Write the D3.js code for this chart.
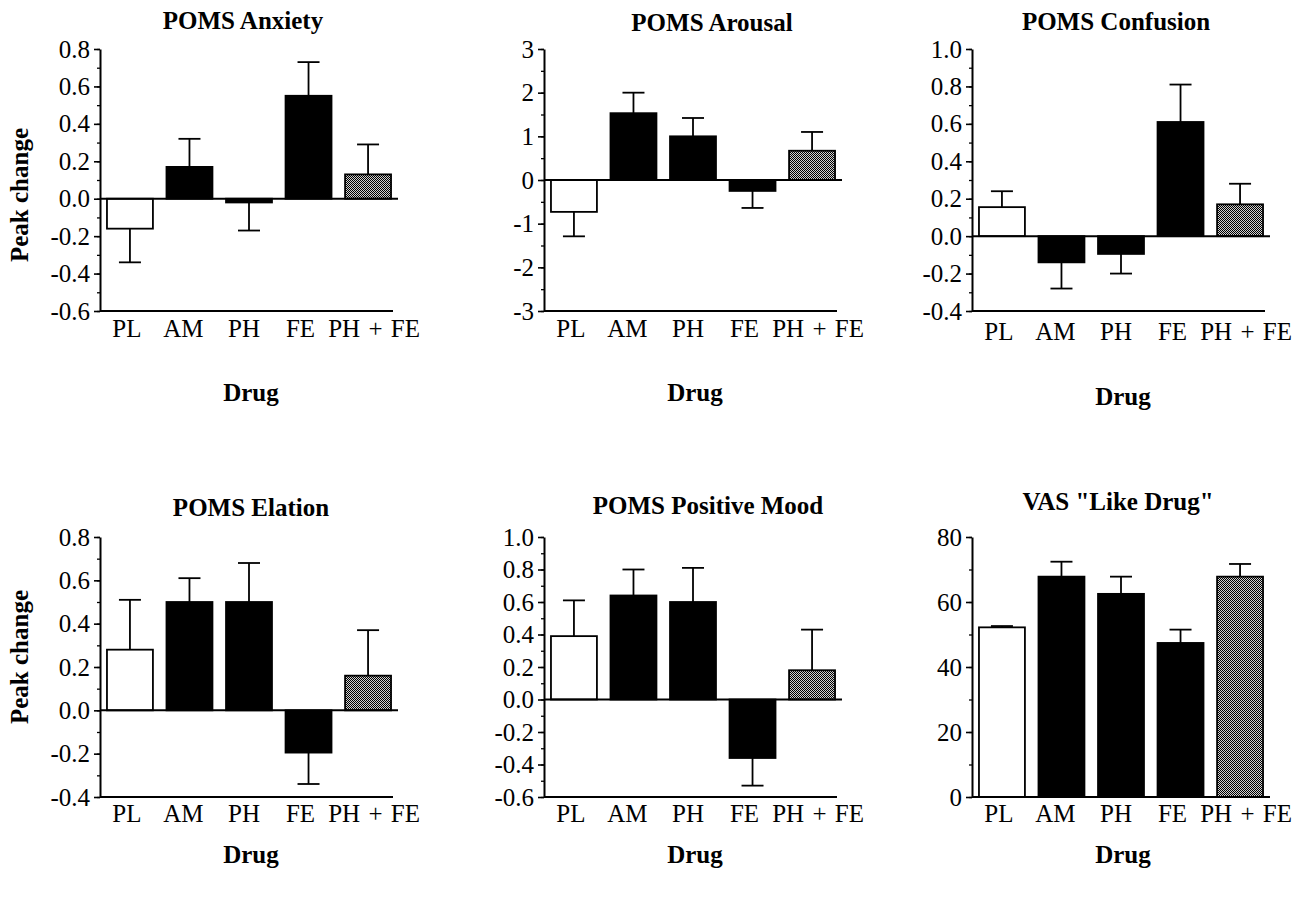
<!DOCTYPE html>
<html>
<head>
<meta charset="utf-8">
<script src="https://cdn.jsdelivr.net/npm/d3@7"></script>
<style>
  body { margin: 0; background: #fff; }
  svg { display: block; }
  text { font-family: "Liberation Serif", "Times New Roman", serif; fill: #000; }
  .tickLbl { font-size: 25px; }
  .ttl { font-size: 25px; font-weight: bold; }
  .axTtl { font-size: 25px; font-weight: bold; }
</style>
</head>
<body>
<div id="chart"></div>
<script>
var categories = ["PL", "AM", "PH", "FE", "PH + FE"];
var panelTitles = ["POMS Anxiety", "POMS Arousal", "POMS Confusion", "POMS Elation", "POMS Positive Mood", 'VAS "Like Drug"'];

var anxietyMean = [-0.16, 0.17, -0.02, 0.55, 0.13];
var anxietySem = [0.18, 0.15, 0.15, 0.18, 0.16];
var arousalMean = [-0.73, 1.53, 1.0, -0.25, 0.67];
var arousalSem = [0.56, 0.47, 0.42, 0.39, 0.43];
var confusionMean = [0.155, -0.14, -0.095, 0.61, 0.17];
var confusionSem = [0.085, 0.14, 0.105, 0.20, 0.11];
var elationMean = [0.28, 0.50, 0.50, -0.195, 0.16];
var elationSem = [0.23, 0.11, 0.18, 0.145, 0.21];
var positiveMean = [0.39, 0.64, 0.60, -0.36, 0.18];
var positiveSem = [0.22, 0.16, 0.21, 0.17, 0.25];
var likeMean = [52.2, 67.8, 62.5, 47.4, 67.8];
var likeSem = [0.4, 4.6, 5.3, 4.1, 3.9];

var yDomains = [[-0.6, 0.8], [-3, 3], [-0.4, 1.0], [-0.4, 0.8], [-0.6, 1.0], [0, 80]];
var yTicks = [
  [-0.6, -0.4, -0.2, 0, 0.2, 0.4, 0.6, 0.8],
  [-3, -2, -1, 0, 1, 2, 3],
  [-0.4, -0.2, 0, 0.2, 0.4, 0.6, 0.8, 1.0],
  [-0.4, -0.2, 0, 0.2, 0.4, 0.6, 0.8],
  [-0.6, -0.4, -0.2, 0, 0.2, 0.4, 0.6, 0.8, 1.0],
  [0, 20, 40, 60, 80]
];
var yMinorStep = [0.1, 0.5, 0.1, 0.1, 0.1, 10];
var yDecimals = [1, 0, 1, 1, 1, 0];

var means = [anxietyMean, arousalMean, confusionMean, elationMean, positiveMean, likeMean];
var sems = [anxietySem, arousalSem, confusionSem, elationSem, positiveSem, likeSem];

// layout
var colX = [100, 544, 972];
var rowY = [[49, 311], [537, 797]];
var plotW = 298;
var titlePos = [[243, 29], [712, 31], [1116, 30], [251, 516], [708, 514], [1118, 510]];
var catBase = [337, 337, 340, 822, 822, 822];
var drugBase = [401, 401, 405, 863, 863, 863];
var catShift = [-3, -6, -5, -8, 6];
var yLabelMid = [195, 657];

var svg = d3.select("#chart").append("svg")
  .attr("width", 1307).attr("height", 897);

var defs = svg.append("defs");
var pat = defs.append("pattern").attr("id", "dots")
  .attr("width", 2).attr("height", 2).attr("patternUnits", "userSpaceOnUse");
pat.append("rect").attr("width", 2).attr("height", 2).attr("fill", "#d0d0d0");
pat.append("rect").attr("width", 1).attr("height", 1).attr("fill", "#000");
pat.append("rect").attr("x", 1).attr("y", 1).attr("width", 1).attr("height", 1).attr("fill", "#000");

function barFill(i) {
  if (i == 0) return "#fff";
  if (i == 4) return "url(#dots)";
  return "#000";
}

for (var p = 0; p < 6; p++) {
  drawPanel(p);
}

function drawPanel(p) {
  var col = p % 3, row = Math.floor(p / 3);
  var x0 = colX[col], yTop = rowY[row][0], yBot = rowY[row][1];

  var x = d3.scaleBand().domain(categories).range([x0, x0 + plotW])
    .paddingInner(0.228).paddingOuter(0.117);
  var y = d3.scaleLinear().domain(yDomains[p]).range([yBot, yTop]);

  var g = svg.append("g");
  var dec = yDecimals[p];

  // minor ticks
  var minor = d3.range(yDomains[p][0], yDomains[p][1] + 1e-9, yMinorStep[p]);
  g.append("g")
    .attr("transform", "translate(" + x0 + ",0)")
    .call(d3.axisLeft(y).tickValues(minor).tickSize(3).tickFormat(""))
    .call(function(a) { a.select(".domain").remove(); })
    .selectAll("line").attr("stroke-width", 1.3);

  var ax = g.append("g")
    .attr("transform", "translate(" + x0 + ",0)")
    .call(d3.axisLeft(y).tickValues(yTicks[p]).tickSize(6).tickPadding(4).tickSizeOuter(0)
      .tickFormat(function(d) { return d.toFixed(dec); }));
  ax.attr("font-family", null).attr("font-size", null);
  ax.selectAll("text").attr("class", "tickLbl")
    .style("font-family", '"Liberation Serif", serif').style("font-size", "25px");
  ax.select(".domain").attr("stroke-width", 2);
  ax.selectAll("line").attr("stroke-width", 1.6);

  // bars
  var data = categories.map(function(c, i) { return { cat: c, i: i, m: means[p][i], s: sems[p][i] }; });

  // error bars (only in direction of bar)
  var eb = g.append("g").selectAll("g").data(data).enter().append("g");
  eb.append("line")
    .attr("x1", function(d) { return x(d.cat) + x.bandwidth() / 2; })
    .attr("x2", function(d) { return x(d.cat) + x.bandwidth() / 2; })
    .attr("y1", function(d) { return y(d.m); })
    .attr("y2", function(d) { return y(d.m >= 0 ? d.m + d.s : d.m - d.s); })
    .attr("stroke", "#000").attr("stroke-width", 1.8);
  eb.append("line")
    .attr("x1", function(d) { return x(d.cat) + x.bandwidth() / 2 - 11; })
    .attr("x2", function(d) { return x(d.cat) + x.bandwidth() / 2 + 11; })
    .attr("y1", function(d) { return y(d.m >= 0 ? d.m + d.s : d.m - d.s); })
    .attr("y2", function(d) { return y(d.m >= 0 ? d.m + d.s : d.m - d.s); })
    .attr("stroke", "#000").attr("stroke-width", 1.8);

  g.append("g").selectAll("rect").data(data).enter().append("rect")
    .attr("x", function(d) { return x(d.cat); })
    .attr("width", x.bandwidth())
    .attr("y", function(d) { return Math.min(y(d.m), y(0)); })
    .attr("height", function(d) { return Math.abs(y(d.m) - y(0)); })
    .attr("fill", function(d) { return barFill(d.i); })
    .attr("stroke", "#000").attr("stroke-width", 1.8);

  // zero line and bottom line
  g.append("line")
    .attr("x1", x0).attr("x2", x0 + plotW)
    .attr("y1", y(0)).attr("y2", y(0))
    .attr("stroke", "#000").attr("stroke-width", 2);
  if (yDomains[p][0] < 0) {
    g.append("line")
      .attr("x1", x0).attr("x2", x0 + plotW - 5)
      .attr("y1", yBot).attr("y2", yBot)
      .attr("stroke", "#000").attr("stroke-width", 2);
  }

  // category labels
  g.append("g").selectAll("text").data(data).enter().append("text")
    .attr("class", "tickLbl")
    .attr("text-anchor", "middle")
    .attr("word-spacing", function(d) { return d.i == 4 ? 2 : 0; })
    .attr("x", function(d) { return x(d.cat) + x.bandwidth() / 2 + catShift[d.i]; })
    .attr("y", catBase[p])
    .text(function(d) { return d.cat; });

  svg.append("text").attr("class", "axTtl")
    .attr("text-anchor", "middle")
    .attr("x", x0 + plotW / 2 + 2).attr("y", drugBase[p])
    .text("Drug");

  svg.append("text").attr("class", "ttl")
    .attr("text-anchor", "middle")
    .attr("x", titlePos[p][0]).attr("y", titlePos[p][1])
    .text(panelTitles[p]);

  if (col == 0) {
    svg.append("text").attr("class", "axTtl")
      .attr("text-anchor", "middle")
      .attr("transform", "translate(28," + yLabelMid[row] + ") rotate(-90)")
      .text("Peak change");
  }
}
</script>
</body>
</html>
